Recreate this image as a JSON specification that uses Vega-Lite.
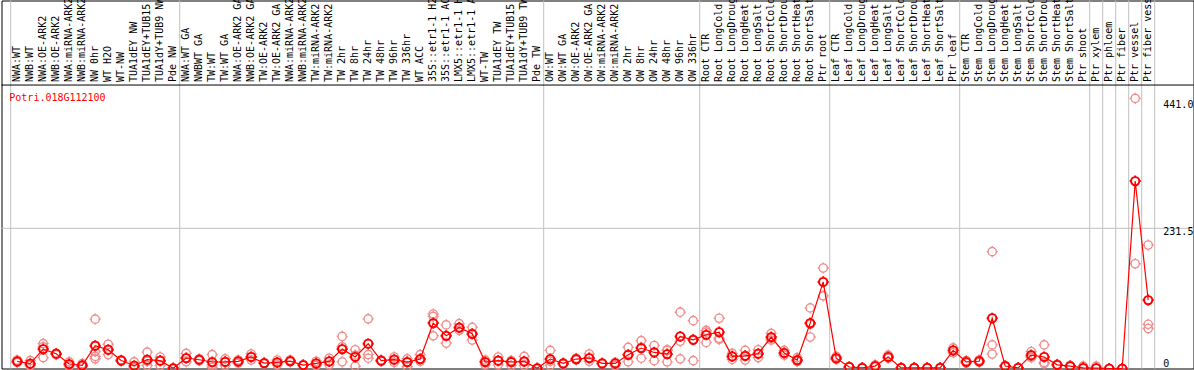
{
"$schema": "https://vega.github.io/schema/vega-lite/v6.json",
"width": 1192, "height": 368,
"autosize": {"type": "none"},
"padding": {"left": 1.5, "top": 0.5, "right": 0.5, "bottom": 1.5},
"background": "white",
"config": {"view": {"stroke": "black", "strokeWidth": 1}, "font": "DejaVu Sans Mono", "axis": {"disable": true}},
"datasets": {
"gene": [{"gene": "Potri.018G112100"}],
"ticks": [{"v": 0, "t": "0"}, {"v": 231.5, "t": "231.5"}, {"v": 441, "t": "441.0"}],
"means": [
{"i":1,"grp":"NW","sample":"NWA:WT","value":11.7},{"i":2,"grp":"NW","sample":"NWB:WT","value":7.9},{"i":3,"grp":"NW","sample":"NWA:OE-ARK2","value":32},{"i":4,"grp":"NW","sample":"NWB:OE-ARK2","value":24.4},{"i":5,"grp":"NW","sample":"NWA:miRNA-ARK2","value":7.4},{"i":6,"grp":"NW","sample":"NWB:miRNA-ARK2","value":5.1},{"i":7,"grp":"NW","sample":"NW 0hr","value":37.6},{"i":8,"grp":"NW","sample":"WT H2O","value":31},{"i":9,"grp":"NW","sample":"WT-NW","value":13.3},{"i":10,"grp":"NW","sample":"TUA1dEY NW","value":4.6},{"i":11,"grp":"NW","sample":"TUA1dEY+TUB15 NW","value":14.5},{"i":12,"grp":"NW","sample":"TUA1dY+TUB9 NW","value":12.9},{"i":13,"grp":"NW","sample":"Pde NW","value":0.3},
{"i":14,"grp":"TW","sample":"NWA:WT GA","value":17.3},{"i":15,"grp":"TW","sample":"NWBWT GA","value":14.5},{"i":16,"grp":"TW","sample":"TW:WT","value":10.7},{"i":17,"grp":"TW","sample":"TW:WT GA","value":10.9},{"i":18,"grp":"TW","sample":"NWA:OE-ARK2 GA","value":11.7},{"i":19,"grp":"TW","sample":"NWB:OE-ARK2 GA","value":19},{"i":20,"grp":"TW","sample":"TW:OE-ARK2","value":9},{"i":21,"grp":"TW","sample":"TW:OE-ARK2 GA","value":10},{"i":22,"grp":"TW","sample":"NWA:miRNA-ARK2","value":12.3},{"i":23,"grp":"TW","sample":"NWB:miRNA-ARK2","value":5.7},{"i":24,"grp":"TW","sample":"TW:miRNA-ARK2","value":8.4},{"i":25,"grp":"TW","sample":"TW:miRNA-ARK2","value":11.7},{"i":26,"grp":"TW","sample":"TW 2hr","value":32},{"i":27,"grp":"TW","sample":"TW 8hr","value":19},{"i":28,"grp":"TW","sample":"TW 24hr","value":40.9},{"i":29,"grp":"TW","sample":"TW 48hr","value":12.9},{"i":30,"grp":"TW","sample":"TW 96hr","value":14.5},{"i":31,"grp":"TW","sample":"TW 336hr","value":10.7},{"i":32,"grp":"TW","sample":"WT ACC","value":15.6},{"i":33,"grp":"TW","sample":"35S::etr1-1 H2O","value":75},{"i":34,"grp":"TW","sample":"35S::etr1-1 ACC","value":54},{"i":35,"grp":"TW","sample":"LMX5::etr1-1 H2O","value":67.7},{"i":36,"grp":"TW","sample":"LMX5::etr1-1 ACC","value":57.3},{"i":37,"grp":"TW","sample":"WT-TW","value":10.7},{"i":38,"grp":"TW","sample":"TUA1dEY TW","value":12.9},{"i":39,"grp":"TW","sample":"TUA1dEY+TUB15 TW","value":10.7},{"i":40,"grp":"TW","sample":"TUA1dY+TUB9 TW","value":11.7},{"i":41,"grp":"TW","sample":"Pde TW","value":0.3},
{"i":42,"grp":"OW","sample":"OW:WT","value":15.6},{"i":43,"grp":"OW","sample":"OW:WT GA","value":8.4},{"i":44,"grp":"OW","sample":"OW:OE-ARK2","value":15.6},{"i":45,"grp":"OW","sample":"OW:OE-ARK2 GA","value":17.3},{"i":46,"grp":"OW","sample":"OW:miRNA-ARK2","value":8.4},{"i":47,"grp":"OW","sample":"OW:miRNA-ARK2","value":8.4},{"i":48,"grp":"OW","sample":"OW 2hr","value":22.7},{"i":49,"grp":"OW","sample":"OW 8hr","value":33.8},{"i":50,"grp":"OW","sample":"OW 24hr","value":26.5},{"i":51,"grp":"OW","sample":"OW 48hr","value":23.9},{"i":52,"grp":"OW","sample":"OW 96hr","value":52.9},{"i":53,"grp":"OW","sample":"OW 336hr","value":47.4},
{"i":54,"grp":"Root","sample":"Root CTR","value":55.7},{"i":55,"grp":"Root","sample":"Root LongCold","value":60},{"i":56,"grp":"Root","sample":"Root LongDrought","value":20},{"i":57,"grp":"Root","sample":"Root LongHeat","value":21},{"i":58,"grp":"Root","sample":"Root LongSalt","value":24.4},{"i":59,"grp":"Root","sample":"Root ShortCold","value":52},{"i":60,"grp":"Root","sample":"Root ShortDrought","value":25.6},{"i":61,"grp":"Root","sample":"Root ShortHeat","value":14},{"i":62,"grp":"Root","sample":"Root ShortSalt","value":75},{"i":63,"grp":"Root","sample":"Ptr root","value":143},
{"i":64,"grp":"Leaf","sample":"Leaf CTR","value":17},{"i":65,"grp":"Leaf","sample":"Leaf LongCold","value":2.5},{"i":66,"grp":"Leaf","sample":"Leaf LongDrought","value":1},{"i":67,"grp":"Leaf","sample":"Leaf LongHeat","value":4},{"i":68,"grp":"Leaf","sample":"Leaf LongSalt","value":19},{"i":69,"grp":"Leaf","sample":"Leaf ShortCold","value":1},{"i":70,"grp":"Leaf","sample":"Leaf ShortDrought","value":1},{"i":71,"grp":"Leaf","sample":"Leaf ShortHeat","value":1},{"i":72,"grp":"Leaf","sample":"Leaf ShortSalt","value":1},{"i":73,"grp":"Leaf","sample":"Ptr leaf","value":30},
{"i":74,"grp":"Stem","sample":"Stem CTR","value":11},{"i":75,"grp":"Stem","sample":"Stem LongCold","value":12},{"i":76,"grp":"Stem","sample":"Stem LongDrought","value":83},{"i":77,"grp":"Stem","sample":"Stem LongHeat","value":4},{"i":78,"grp":"Stem","sample":"Stem LongSalt","value":1},{"i":79,"grp":"Stem","sample":"Stem ShortCold","value":22},{"i":80,"grp":"Stem","sample":"Stem ShortDrought","value":19},{"i":81,"grp":"Stem","sample":"Stem ShortHeat","value":6},{"i":82,"grp":"Stem","sample":"Stem ShortSalt","value":4},{"i":83,"grp":"Stem","sample":"Ptr shoot","value":1},
{"i":84,"grp":"xylem","sample":"Ptr xylem","value":0.5},{"i":85,"grp":"phloem","sample":"Ptr phloem","value":0},{"i":86,"grp":"fiber","sample":"Ptr fiber","value":0},{"i":87,"grp":"vessel","sample":"Ptr vessel","value":309.6},{"i":88,"grp":"fibervessel","sample":"Ptr fiber vessel","value":113}
],
"reps": [
{"i":1,"value":14},{"i":1,"value":11},{"i":1,"value":10},
{"i":2,"value":13},{"i":2,"value":5},{"i":2,"value":5},
{"i":3,"value":41},{"i":3,"value":36},{"i":3,"value":18},
{"i":4,"value":24},{"i":4,"value":25},{"i":4,"value":23},
{"i":5,"value":11},{"i":5,"value":4},{"i":5,"value":6},
{"i":6,"value":8},{"i":6,"value":3},{"i":6,"value":4},
{"i":7,"value":81.5},{"i":7,"value":37},{"i":7,"value":28},{"i":7,"value":20},{"i":7,"value":16},
{"i":8,"value":40},{"i":8,"value":31},{"i":8,"value":23},
{"i":9,"value":14},{"i":9,"value":13},{"i":9,"value":12},
{"i":10,"value":11},{"i":10,"value":2},{"i":10,"value":1},
{"i":11,"value":27},{"i":11,"value":12},{"i":11,"value":5},
{"i":12,"value":19},{"i":12,"value":13},{"i":12,"value":5},
{"i":13,"value":0},{"i":13,"value":0},{"i":13,"value":1},
{"i":14,"value":25},{"i":14,"value":17},{"i":14,"value":11},
{"i":15,"value":16},{"i":15,"value":14},{"i":15,"value":13},
{"i":16,"value":23},{"i":16,"value":6},{"i":16,"value":2},
{"i":17,"value":16},{"i":17,"value":11},{"i":17,"value":5},
{"i":18,"value":14},{"i":18,"value":12},{"i":18,"value":9},
{"i":19,"value":24},{"i":19,"value":19},{"i":19,"value":14},
{"i":20,"value":9},{"i":20,"value":9},{"i":20,"value":8},
{"i":21,"value":14},{"i":21,"value":10},{"i":21,"value":6},
{"i":22,"value":14},{"i":22,"value":12},{"i":22,"value":11},
{"i":23,"value":6},{"i":23,"value":5},{"i":23,"value":6},
{"i":24,"value":12},{"i":24,"value":8},{"i":24,"value":5},
{"i":25,"value":17},{"i":25,"value":12},{"i":25,"value":6},
{"i":26,"value":53},{"i":26,"value":36},{"i":26,"value":11},
{"i":27,"value":31},{"i":27,"value":22},{"i":27,"value":4},
{"i":28,"value":82},{"i":28,"value":23},{"i":28,"value":17},
{"i":29,"value":13},{"i":29,"value":12},{"i":29,"value":14},
{"i":30,"value":19},{"i":30,"value":15},{"i":30,"value":10},
{"i":31,"value":16},{"i":31,"value":11},{"i":31,"value":3},
{"i":32,"value":23},{"i":32,"value":16},{"i":32,"value":12},
{"i":33,"value":90},{"i":33,"value":86},{"i":33,"value":54},
{"i":34,"value":72},{"i":34,"value":54},{"i":34,"value":42},
{"i":35,"value":74},{"i":35,"value":67},{"i":35,"value":63},
{"i":36,"value":68},{"i":36,"value":57},{"i":36,"value":47},
{"i":37,"value":14},{"i":37,"value":11},{"i":37,"value":6},
{"i":38,"value":19},{"i":38,"value":13},{"i":38,"value":6},
{"i":39,"value":13},{"i":39,"value":11},{"i":39,"value":5},
{"i":40,"value":20},{"i":40,"value":11},{"i":40,"value":5},
{"i":41,"value":0},{"i":41,"value":0},{"i":41,"value":1},
{"i":42,"value":30},{"i":42,"value":12},{"i":42,"value":5},
{"i":43,"value":9},{"i":43,"value":8},{"i":43,"value":7},
{"i":44,"value":17},{"i":44,"value":15},{"i":44,"value":14},
{"i":45,"value":24},{"i":45,"value":17},{"i":45,"value":12},
{"i":46,"value":9},{"i":46,"value":8},{"i":46,"value":8},
{"i":47,"value":10},{"i":47,"value":9},{"i":47,"value":5},
{"i":48,"value":35},{"i":48,"value":23},{"i":48,"value":11},
{"i":49,"value":46},{"i":49,"value":35},{"i":49,"value":17},
{"i":50,"value":38},{"i":50,"value":27},{"i":50,"value":13},
{"i":51,"value":31},{"i":51,"value":30},{"i":51,"value":11},
{"i":52,"value":93},{"i":52,"value":45},{"i":52,"value":16},
{"i":53,"value":79},{"i":53,"value":48},{"i":53,"value":13},
{"i":54,"value":60},{"i":54,"value":63},{"i":54,"value":43},
{"i":55,"value":83},{"i":55,"value":48},{"i":55,"value":50},
{"i":56,"value":25},{"i":56,"value":20},{"i":56,"value":15},
{"i":57,"value":30},{"i":57,"value":21},{"i":57,"value":14},
{"i":58,"value":31},{"i":58,"value":24},{"i":58,"value":18},
{"i":59,"value":58},{"i":59,"value":47},{"i":59,"value":50},
{"i":60,"value":30},{"i":60,"value":22},{"i":60,"value":25},
{"i":61,"value":18},{"i":61,"value":12},{"i":61,"value":12},
{"i":62,"value":100},{"i":62,"value":73},{"i":62,"value":52},
{"i":63,"value":166},{"i":63,"value":120},
{"i":64,"value":20},{"i":64,"value":15},{"i":64,"value":16},
{"i":65,"value":3},{"i":65,"value":2},{"i":65,"value":2},
{"i":66,"value":1},{"i":66,"value":1},{"i":66,"value":1},
{"i":67,"value":6},{"i":67,"value":3},{"i":67,"value":3},
{"i":68,"value":22},{"i":68,"value":17},{"i":68,"value":18},
{"i":69,"value":1},{"i":69,"value":1},{"i":69,"value":1},
{"i":70,"value":1},{"i":70,"value":1},{"i":70,"value":1},
{"i":71,"value":1},{"i":71,"value":1},{"i":71,"value":1},
{"i":72,"value":1},{"i":72,"value":1},{"i":72,"value":1},
{"i":73,"value":34},{"i":73,"value":26},
{"i":74,"value":13},{"i":74,"value":9},
{"i":75,"value":14},{"i":75,"value":10},
{"i":76,"value":193},{"i":76,"value":39},{"i":76,"value":24},
{"i":77,"value":5},{"i":77,"value":3},{"i":77,"value":4},
{"i":78,"value":1},{"i":78,"value":1},{"i":78,"value":1},
{"i":79,"value":28},{"i":79,"value":20},{"i":79,"value":18},
{"i":80,"value":39},{"i":80,"value":10},{"i":80,"value":8},
{"i":81,"value":7},{"i":81,"value":5},{"i":81,"value":6},
{"i":82,"value":5},{"i":82,"value":3},{"i":82,"value":4},
{"i":83,"value":4},{"i":83,"value":0},{"i":83,"value":0},
{"i":84,"value":4},{"i":84,"value":0},
{"i":85,"value":0},{"i":85,"value":0},
{"i":86,"value":0},{"i":86,"value":0},
{"i":87,"value":446},{"i":87,"value":173},
{"i":88,"value":204},{"i":88,"value":73},{"i":88,"value":66}
]
},
"layer": [
  {"data": {"name": "means"},
   "transform": [{"aggregate": [{"op": "min", "field": "i", "as": "i"}], "groupby": ["grp"]}],
   "mark": {"type": "rule", "color": "#c0c0c0", "strokeWidth": 1},
   "encoding": {"x": {"field": "i", "type": "ordinal", "bandPosition": 0}}},
  {"data": {"name": "gene"},
   "mark": {"type": "rule", "color": "#c0c0c0", "strokeWidth": 1},
   "encoding": {"x": {"datum": 88, "type": "ordinal", "bandPosition": 1}}},
  {"data": {"name": "gene"},
   "mark": {"type": "rule", "color": "#c0c0c0", "strokeWidth": 1},
   "encoding": {"y": {"datum": 231.5, "type": "quantitative"}}},
  {"data": {"name": "gene"},
   "mark": {"type": "rule", "color": "black", "strokeWidth": 1},
   "encoding": {"y": {"datum": 468.1, "type": "quantitative"}}},
  {"data": {"name": "reps"},
   "mark": {"type": "point", "shape": "M-1,0A1,1,0,1,1,1,0A1,1,0,1,1,-1,0Z M0,-1.35V-0.9 M0,0.9V1.35 M-1.35,0H-0.9 M0.9,0H1.35", "filled": false, "size": 68, "strokeWidth": 1.4, "color": "#f08c8c", "opacity": 1},
   "encoding": {
     "x": {"field": "i", "type": "ordinal"},
     "y": {"field": "value", "type": "quantitative"}
   }},
  {"data": {"name": "means"},
   "mark": {"type": "line", "color": "#ff0000", "strokeWidth": 1.2},
   "encoding": {
     "x": {"field": "i", "type": "ordinal"},
     "y": {"field": "value", "type": "quantitative"}
   }},
  {"data": {"name": "means"},
   "mark": {"type": "point", "shape": "M-1,0A1,1,0,1,1,1,0A1,1,0,1,1,-1,0Z M0,-1.35V-0.9 M0,0.9V1.35 M-1.35,0H-0.9 M0.9,0H1.35", "filled": false, "size": 68, "strokeWidth": 2, "color": "#ff0000", "opacity": 1},
   "encoding": {
     "x": {"field": "i", "type": "ordinal",
       "scale": {"type": "band", "range": [9.2, 1153.2], "paddingInner": 0, "paddingOuter": 0}},
     "y": {"field": "value", "type": "quantitative",
       "scale": {"domain": [0, 607.7], "nice": false, "zero": true}}
   }},
  {"data": {"name": "means"},
   "mark": {"type": "text", "angle": 270, "align": "left", "baseline": "middle", "color": "black", "font": "DejaVu Sans Mono", "fontSize": 10},
   "encoding": {
     "x": {"field": "i", "type": "ordinal"},
     "y": {"datum": 473.1, "type": "quantitative"},
     "text": {"field": "sample"}
   }},
  {"data": {"name": "ticks"},
   "transform": [{"filter": "datum.v > 0"}],
   "mark": {"type": "text", "align": "left", "baseline": "top", "dx": 8.6, "dy": -1, "color": "black", "font": "DejaVu Sans Mono", "fontSize": 10},
   "encoding": {
     "x": {"datum": 88, "type": "ordinal", "bandPosition": 1},
     "y": {"field": "v", "type": "quantitative"},
     "text": {"field": "t"}
   }},
  {"data": {"name": "ticks"},
   "transform": [{"filter": "datum.v == 0"}],
   "mark": {"type": "text", "align": "left", "baseline": "bottom", "dx": 8.6, "color": "black", "font": "DejaVu Sans Mono", "fontSize": 10},
   "encoding": {
     "x": {"datum": 88, "type": "ordinal", "bandPosition": 1},
     "y": {"field": "v", "type": "quantitative"},
     "text": {"field": "t"}
   }},
  {"data": {"name": "gene"},
   "mark": {"type": "text", "align": "left", "baseline": "middle", "color": "#ff0000", "font": "DejaVu Sans Mono", "fontSize": 10, "dx": -1.4},
   "encoding": {
     "x": {"datum": 1, "type": "ordinal", "bandPosition": 0},
     "y": {"datum": 446.7, "type": "quantitative"},
     "text": {"field": "gene"}
   }}
]
}
